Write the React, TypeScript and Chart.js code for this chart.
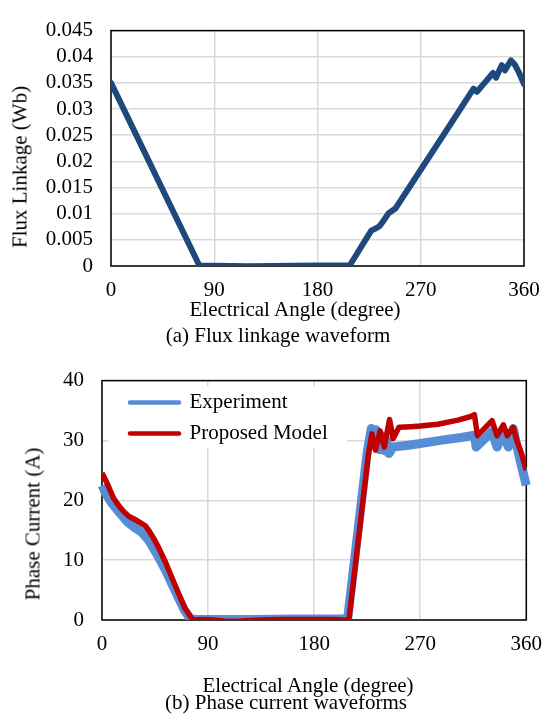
import React, { useEffect, useRef } from 'react';
import { Chart, registerables } from 'chart.js';

Chart.register(...registerables);

const SERIF = '"Liberation Serif", "Times New Roman", serif';
const GRID = '#D9D9D9';

// ---------- tick labels ----------
const angleTicks = [0, 90, 180, 270, 360];
const fluxTicks = [0, 0.005, 0.01, 0.015, 0.02, 0.025, 0.03, 0.035, 0.04, 0.045];
const currentTicks = [0, 10, 20, 30, 40];

// ---------- (a) flux linkage ----------
const fluxAngle = [0, 77, 90, 105, 120, 140, 160, 180, 195, 208, 214, 221, 227, 230, 234, 238, 242, 246, 248, 270, 290, 305, 316, 319, 326, 333, 335.6, 340.6, 343.5, 348.5, 352, 356, 360];
const fluxValue = [0.035, 0.0001, 0.00005, 0, -0.00005, 0, 0.00005, 0.0001, 0.0001, 0.0001, 0.0022, 0.0047, 0.0068, 0.0071, 0.0076, 0.0088, 0.0101, 0.0107, 0.011, 0.0184, 0.0251, 0.0302, 0.0339, 0.0333, 0.0351, 0.0369, 0.036, 0.0384, 0.0374, 0.0393, 0.0385, 0.0368, 0.0348];

// ---------- (b) phase current ----------
const seriesNames = ['Experiment', 'Proposed Model'];

const expAngle = [0, 3, 8, 15, 22, 28, 34, 40, 46, 54, 62, 70, 75, 80, 100, 130, 160, 190, 207, 208.5, 225, 228.5, 230.5, 232.5, 235, 237, 239.5, 241.5, 243.5, 247, 260, 270, 290, 305, 316, 317.5, 331, 335.2, 340.5, 344.8, 349, 351, 355, 360];
const expCurrent = [22.5, 21.2, 19.6, 17.9, 16.3, 15.4, 14.6, 13.2, 11.2, 8.3, 4.9, 1.6, 0.2, 0.1, 0.1, 0.1, 0.15, 0.15, 0.15, 0.3, 28, 32, 29.3, 31.8, 28.5, 30.8, 28.3, 30, 27.8, 28.9, 29.2, 29.5, 30.1, 30.5, 30.9, 28.9, 31.5, 28.9, 31.2, 28.9, 32, 30, 26.5, 22.5];

const modelAngle = [0, 1, 4, 6.6, 10, 15, 19, 23, 28, 33, 37, 40, 44, 47, 54, 62, 70, 77, 85, 95, 105, 115, 125, 135, 150, 165, 180, 195, 205, 209.5, 226, 229, 232, 236, 239.5, 244, 247, 252, 262, 270, 285, 302, 313, 316, 318.6, 331, 335.2, 340.6, 343.9, 348.9, 352, 356, 360];
const modelCurrent = [24.5, 24.2, 23, 21.8, 20.3, 18.9, 18, 17.3, 16.8, 16.2, 15.7, 14.9, 13.6, 12.5, 9.6, 5.8, 2.1, 0, 0.1, 0, -0.2, -0.2, -0.1, 0, 0.1, 0.1, 0.1, 0.1, 0, 0, 27.6, 31.1, 28.4, 31.6, 28.9, 33.5, 30.3, 32.2, 32.3, 32.4, 32.7, 33.4, 34.0, 34.3, 30.8, 33.3, 30.8, 32.6, 30.8, 32.2, 30, 27.8, 25];

const toPoints = (xs: number[], ys: number[]) => xs.map((x, i) => ({ x, y: ys[i] }));
const fmt = (v: any) => String(parseFloat(Number(v).toFixed(4)));
const tickFont = { family: SERIF, size: 21 };

const framePlugin = {
  id: 'frame',
  beforeDatasetsDraw(chart: any, _args: any, opts: any) {
    const { ctx, chartArea: a } = chart;
    ctx.save();
    if (opts && opts.legendBox && chart.legend) {
      const b = opts.legendBox;
      ctx.fillStyle = '#ffffff';
      ctx.fillRect(a.left + b[0], a.top + b[1], b[2], b[3]);
      chart.legend.draw();
    }
    ctx.strokeStyle = '#000000';
    ctx.lineWidth = 1.5;
    ctx.strokeRect(a.left, a.top, a.right - a.left, a.bottom - a.top);
    ctx.restore();
  },
};

const legendPlacePlugin = {
  id: 'legendPlace',
  afterLayout(chart: any, _args: any, opts: any) {
    const lg = chart.legend;
    if (!lg || !opts || !opts.offset) return;
    const a = chart.chartArea;
    lg.left = a.left + opts.offset[0];
    lg.top = a.top + opts.offset[1];
    lg.right = a.right;
    lg.bottom = a.bottom;
  },
};

function axisX(height: number) {
  return {
    type: 'linear' as const,
    min: 0,
    max: 360,
    afterBuildTicks: (s: any) => { s.ticks = angleTicks.map((value) => ({ value })); },
    afterFit: (s: any) => { s.height = height; },
    grid: { color: GRID, lineWidth: 1.5, drawTicks: false },
    border: { display: false },
    ticks: { padding: 12, font: tickFont, color: '#000', maxRotation: 0, autoSkip: false, callback: fmt },
  };
}

function axisY(min: number, max: number, ticks: number[], width: number) {
  return {
    type: 'linear' as const,
    min,
    max,
    afterBuildTicks: (s: any) => { s.ticks = ticks.map((value) => ({ value })); },
    afterFit: (s: any) => { s.width = width; },
    grid: { color: GRID, lineWidth: 1.5, drawTicks: false },
    border: { display: false },
    ticks: { padding: 18, font: tickFont, color: '#000', autoSkip: false, callback: fmt },
  };
}

function fluxConfig(): any {
  return {
    type: 'line',
    data: {
      datasets: [
        {
          label: 'Flux Linkage',
          data: toPoints(fluxAngle, fluxValue),
          borderColor: '#1F497D',
          borderWidth: 6,
          pointRadius: 0,
          tension: 0,
          borderJoinStyle: 'round',
          borderCapStyle: 'round',
        },
      ],
    },
    options: {
      animation: false,
      responsive: false,
      layout: { padding: { left: 0, top: 15, right: 30, bottom: 0 } },
      plugins: { legend: { display: false }, tooltip: { enabled: false } },
      scales: { x: axisX(84), y: axisY(0, 0.045, fluxTicks, 111) },
    },
    plugins: [framePlugin],
  };
}

function currentConfig(): any {
  return {
    type: 'line',
    data: {
      datasets: [
        {
          label: seriesNames[0],
          data: toPoints(expAngle, expCurrent),
          borderColor: '#558ED5',
          borderWidth: 9,
          pointRadius: 0,
          tension: 0,
          borderJoinStyle: 'round',
          order: 2,
          clip: { left: 5, top: 5, right: 5, bottom: 0 },
        },
        {
          label: seriesNames[1],
          data: toPoints(modelAngle, modelCurrent),
          borderColor: '#C00000',
          borderWidth: 5.5,
          pointRadius: 0,
          tension: 0,
          borderJoinStyle: 'round',
          order: 1,
        },
      ],
    },
    options: {
      animation: false,
      responsive: false,
      layout: { padding: { left: 0, top: 19.3, right: 17.3, bottom: 0 } },
      plugins: {
        tooltip: { enabled: false },
        legend: {
          display: true,
          position: 'chartArea',
          align: 'start',
          labels: {
            usePointStyle: true,
            pointStyleWidth: 49,
            padding: 10,
            font: { family: SERIF, size: 21 },
            color: '#000',
            generateLabels: (chart: any) =>
              chart.data.datasets.map((ds: any, i: number) => ({
                text: ds.label,
                fillStyle: ds.borderColor,
                strokeStyle: ds.borderColor,
                lineWidth: 4.5,
                lineCap: 'round',
                pointStyle: 'line',
                hidden: false,
                datasetIndex: i,
                fontColor: '#000',
              })),
          },
        },
        legendPlace: { offset: [18, 1.5] },
        frame: { legendBox: [6, 5.7, 239, 62] },
      },
      scales: { x: axisX(97), y: axisY(0, 40, currentTicks, 102) },
    },
    plugins: [legendPlacePlugin, framePlugin],
  };
}

function Label({ text, x, y, rotate }: { text: string; x: number; y: number; rotate?: boolean }) {
  return (
    <div
      style={{
        position: 'absolute',
        left: x,
        top: y,
        transform: `translate(-50%, -50%)${rotate ? ' rotate(-90deg)' : ''}`,
        fontFamily: SERIF,
        fontSize: 21,
        lineHeight: '21px',
        whiteSpace: 'nowrap',
        color: '#000',
      }}
    >
      {text}
    </div>
  );
}

export default function App() {
  const topRef = useRef<HTMLCanvasElement>(null);
  const botRef = useRef<HTMLCanvasElement>(null);

  useEffect(() => {
    const c1 = new Chart(topRef.current as HTMLCanvasElement, fluxConfig());
    const c2 = new Chart(botRef.current as HTMLCanvasElement, currentConfig());
    return () => {
      c1.destroy();
      c2.destroy();
    };
  }, []);

  return (
    <div style={{ position: 'absolute', left: 0, top: 0, width: 554, height: 717, background: '#fff' }}>
      <canvas ref={topRef} width={554} height={350} style={{ position: 'absolute', left: 0, top: 0, width: 554, height: 350 }} />
      <canvas ref={botRef} width={554} height={367} style={{ position: 'absolute', left: 0, top: 350, width: 554, height: 367 }} />
      <Label text="Flux Linkage (Wb)" x={20} y={167} rotate />
      <Label text="Electrical Angle (degree)" x={295} y={309} />
      <Label text="(a) Flux linkage waveform" x={278} y={335} />
      <Label text="Phase Current (A)" x={33} y={524} rotate />
      <Label text="Electrical Angle (degree)" x={308} y={685} />
      <Label text="(b) Phase current waveforms" x={286} y={702} />
    </div>
  );
}
